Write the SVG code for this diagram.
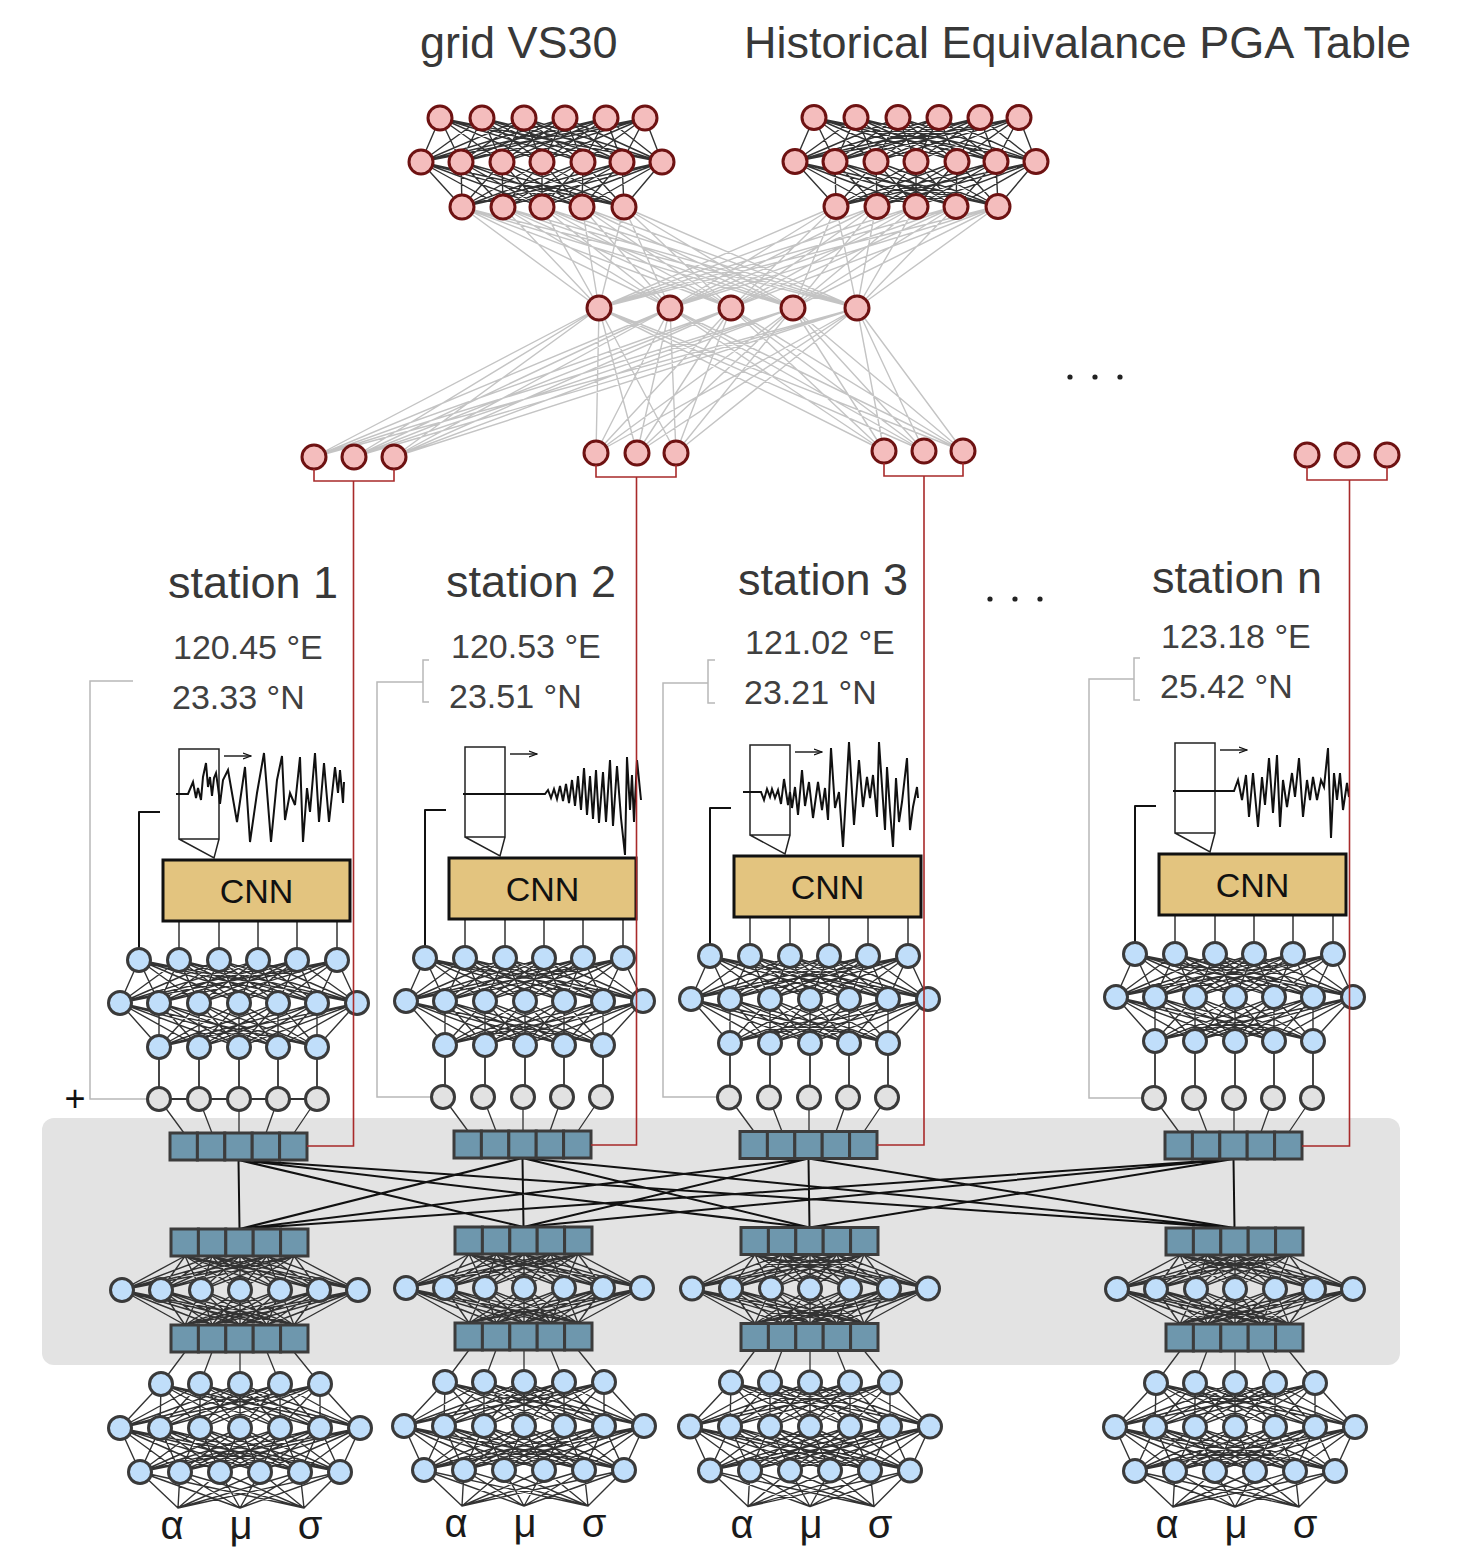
<svg xmlns="http://www.w3.org/2000/svg" width="1462" height="1564" viewBox="0 0 1462 1564">
<style>
text{font-family:"Liberation Sans",Arial,sans-serif}
.t{font-size:45px;fill:#383838}
.c{font-size:34px;fill:#404040}
.pk{fill:#f4bdbd;stroke:#6e1212;stroke-width:3}
.bl{fill:#c0defa;stroke:#3a3a3a;stroke-width:3}
.gr{fill:#e2e2e2;stroke:#3a3a3a;stroke-width:3}
.cell{fill:#6e97ad;stroke:#3c3c3c;stroke-width:3}
.dn{fill:none;stroke:#333;stroke-width:1.4;stroke-linejoin:round}
.lt{fill:none;stroke:#c4c4c4;stroke-width:1.4;stroke-linejoin:round}
.red{fill:none;stroke:#a82a2a;stroke-width:1.6}
.gl{fill:none;stroke:#b8b8b8;stroke-width:1.5}
.bk{fill:none;stroke:#111;stroke-width:2;stroke-linejoin:round}
.wv{fill:none;stroke:#111;stroke-width:2}
.sn{fill:none;stroke:#222;stroke-width:1.5}
.cnn{fill:#e3c47f;stroke:#111;stroke-width:3}
.cnt{font-size:34px;fill:#111;text-anchor:middle}
.gk{font-size:40px;fill:#1a1a1a;text-anchor:middle}
</style>
<defs>
<marker id="ah" markerWidth="9" markerHeight="8" refX="8" refY="4" orient="auto" markerUnits="userSpaceOnUse">
<path d="M0 1L8 4L0 7" fill="none" stroke="#111" stroke-width="1.2"/>
</marker>
<g id="vec">
<rect class="cell" x="0" y="0" width="27.4" height="27"/>
<rect class="cell" x="27.4" y="0" width="27.4" height="27"/>
<rect class="cell" x="54.8" y="0" width="27.4" height="27"/>
<rect class="cell" x="82.2" y="0" width="27.4" height="27"/>
<rect class="cell" x="109.6" y="0" width="27.4" height="27"/>
</g>
<g id="pnet">
<path class="dn" d="M421 162 440 118 461 162M502 162 440 118 542 162M583 162 440 118 622 162M662 162 440 118
M421 162 482 118 461 162M502 162 482 118 542 162M583 162 482 118 622 162M662 162 482 118
M421 162 524 118 461 162M502 162 524 118 542 162M583 162 524 118 622 162M662 162 524 118
M421 162 565 118 461 162M502 162 565 118 542 162M583 162 565 118 622 162M662 162 565 118
M421 162 606 118 461 162M502 162 606 118 542 162M583 162 606 118 622 162M662 162 606 118
M421 162 645 118 461 162M502 162 645 118 542 162M583 162 645 118 622 162M662 162 645 118
M462 207 421 162 503 207M542 207 421 162 582 207M624 207 421 162
M462 207 461 162 503 207M542 207 461 162 582 207M624 207 461 162
M462 207 502 162 503 207M542 207 502 162 582 207M624 207 502 162
M462 207 542 162 503 207M542 207 542 162 582 207M624 207 542 162
M462 207 583 162 503 207M542 207 583 162 582 207M624 207 583 162
M462 207 622 162 503 207M542 207 622 162 582 207M624 207 622 162
M462 207 662 162 503 207M542 207 662 162 582 207M624 207 662 162"/>
<circle class="pk" cx="440" cy="118" r="12"/><circle class="pk" cx="482" cy="118" r="12"/><circle class="pk" cx="524" cy="118" r="12"/><circle class="pk" cx="565" cy="118" r="12"/><circle class="pk" cx="606" cy="118" r="12"/><circle class="pk" cx="645" cy="118" r="12"/>
<circle class="pk" cx="421" cy="162" r="12"/><circle class="pk" cx="461" cy="162" r="12"/><circle class="pk" cx="502" cy="162" r="12"/><circle class="pk" cx="542" cy="162" r="12"/><circle class="pk" cx="583" cy="162" r="12"/><circle class="pk" cx="622" cy="162" r="12"/><circle class="pk" cx="662" cy="162" r="12"/>
<circle class="pk" cx="462" cy="207" r="12"/><circle class="pk" cx="503" cy="207" r="12"/><circle class="pk" cx="542" cy="207" r="12"/><circle class="pk" cx="582" cy="207" r="12"/><circle class="pk" cx="624" cy="207" r="12"/>
</g>
<g id="enc">
<path class="sn" d="M179 749H219V839H179ZM179 839L214 858L219 839"/>
<path class="sn" d="M224 756H251" marker-end="url(#ah)"/>
<path class="bk" d="M160 812H139V960"/>
<path fill="none" stroke="#333" stroke-width="1.5" d="M179 921V960M219 921V960M258 921V960M297 921V960M337 921V960"/>
<rect class="cnn" x="163" y="860" width="187" height="61"/>
<text class="cnt" x="256.5" y="903">CNN</text>
<path class="dn" d="M120 1003 139 960 159 1003M199 1003 139 960 239 1003M278 1003 139 960 317 1003M357 1003 139 960
M120 1003 179 960 159 1003M199 1003 179 960 239 1003M278 1003 179 960 317 1003M357 1003 179 960
M120 1003 219 960 159 1003M199 1003 219 960 239 1003M278 1003 219 960 317 1003M357 1003 219 960
M120 1003 258 960 159 1003M199 1003 258 960 239 1003M278 1003 258 960 317 1003M357 1003 258 960
M120 1003 297 960 159 1003M199 1003 297 960 239 1003M278 1003 297 960 317 1003M357 1003 297 960
M120 1003 337 960 159 1003M199 1003 337 960 239 1003M278 1003 337 960 317 1003M357 1003 337 960
M159 1047 120 1003 199 1047M239 1047 120 1003 278 1047M317 1047 120 1003
M159 1047 159 1003 199 1047M239 1047 159 1003 278 1047M317 1047 159 1003
M159 1047 199 1003 199 1047M239 1047 199 1003 278 1047M317 1047 199 1003
M159 1047 239 1003 199 1047M239 1047 239 1003 278 1047M317 1047 239 1003
M159 1047 278 1003 199 1047M239 1047 278 1003 278 1047M317 1047 278 1003
M159 1047 317 1003 199 1047M239 1047 317 1003 278 1047M317 1047 317 1003
M159 1047 357 1003 199 1047M239 1047 357 1003 278 1047M317 1047 357 1003"/>
<circle class="bl" cx="139" cy="960" r="11.5"/><circle class="bl" cx="179" cy="960" r="11.5"/><circle class="bl" cx="219" cy="960" r="11.5"/><circle class="bl" cx="258" cy="960" r="11.5"/><circle class="bl" cx="297" cy="960" r="11.5"/><circle class="bl" cx="337" cy="960" r="11.5"/>
<circle class="bl" cx="120" cy="1003" r="11.5"/><circle class="bl" cx="159" cy="1003" r="11.5"/><circle class="bl" cx="199" cy="1003" r="11.5"/><circle class="bl" cx="239" cy="1003" r="11.5"/><circle class="bl" cx="278" cy="1003" r="11.5"/><circle class="bl" cx="317" cy="1003" r="11.5"/><circle class="bl" cx="357" cy="1003" r="11.5"/>
<circle class="bl" cx="159" cy="1047" r="11.5"/><circle class="bl" cx="199" cy="1047" r="11.5"/><circle class="bl" cx="239" cy="1047" r="11.5"/><circle class="bl" cx="278" cy="1047" r="11.5"/><circle class="bl" cx="317" cy="1047" r="11.5"/>
</g>
<g id="dec">
<path fill="none" stroke="#333" stroke-width="1.3" d="M159 1099 184 1133M199 1099 212 1133M239 1099 239 1133M278 1099 266 1133M317 1099 294 1133M185 1352 161 1384M212 1352 200 1384M240 1352 240 1384M267 1352 280 1384M294 1352 320 1384"/>
<path class="dn" d="M122 1290 185 1256 161 1290M201 1290 185 1256 240 1290M280 1290 185 1256 319 1290M358 1290 185 1256
M122 1290 212 1256 161 1290M201 1290 212 1256 240 1290M280 1290 212 1256 319 1290M358 1290 212 1256
M122 1290 240 1256 161 1290M201 1290 240 1256 240 1290M280 1290 240 1256 319 1290M358 1290 240 1256
M122 1290 267 1256 161 1290M201 1290 267 1256 240 1290M280 1290 267 1256 319 1290M358 1290 267 1256
M122 1290 294 1256 161 1290M201 1290 294 1256 240 1290M280 1290 294 1256 319 1290M358 1290 294 1256
M122 1290 185 1325 161 1290M201 1290 185 1325 240 1290M280 1290 185 1325 319 1290M358 1290 185 1325
M122 1290 212 1325 161 1290M201 1290 212 1325 240 1290M280 1290 212 1325 319 1290M358 1290 212 1325
M122 1290 240 1325 161 1290M201 1290 240 1325 240 1290M280 1290 240 1325 319 1290M358 1290 240 1325
M122 1290 267 1325 161 1290M201 1290 267 1325 240 1290M280 1290 267 1325 319 1290M358 1290 267 1325
M122 1290 294 1325 161 1290M201 1290 294 1325 240 1290M280 1290 294 1325 319 1290M358 1290 294 1325
M120 1428 161 1384 160 1428M200 1428 161 1384 240 1428M280 1428 161 1384 320 1428M360 1428 161 1384
M120 1428 200 1384 160 1428M200 1428 200 1384 240 1428M280 1428 200 1384 320 1428M360 1428 200 1384
M120 1428 240 1384 160 1428M200 1428 240 1384 240 1428M280 1428 240 1384 320 1428M360 1428 240 1384
M120 1428 280 1384 160 1428M200 1428 280 1384 240 1428M280 1428 280 1384 320 1428M360 1428 280 1384
M120 1428 320 1384 160 1428M200 1428 320 1384 240 1428M280 1428 320 1384 320 1428M360 1428 320 1384
M140 1472 120 1428 180 1472M220 1472 120 1428 260 1472M300 1472 120 1428 340 1472
M140 1472 160 1428 180 1472M220 1472 160 1428 260 1472M300 1472 160 1428 340 1472
M140 1472 200 1428 180 1472M220 1472 200 1428 260 1472M300 1472 200 1428 340 1472
M140 1472 240 1428 180 1472M220 1472 240 1428 260 1472M300 1472 240 1428 340 1472
M140 1472 280 1428 180 1472M220 1472 280 1428 260 1472M300 1472 280 1428 340 1472
M140 1472 320 1428 180 1472M220 1472 320 1428 260 1472M300 1472 320 1428 340 1472
M140 1472 360 1428 180 1472M220 1472 360 1428 260 1472M300 1472 360 1428 340 1472
M140 1472 178 1508 180 1472M220 1472 178 1508 260 1472M300 1472 178 1508 340 1472
M140 1472 240 1508 180 1472M220 1472 240 1508 260 1472M300 1472 240 1508 340 1472
M140 1472 304 1508 180 1472M220 1472 304 1508 260 1472M300 1472 304 1508 340 1472"/>
<circle class="gr" cx="159" cy="1099" r="11.5"/><circle class="gr" cx="199" cy="1099" r="11.5"/><circle class="gr" cx="239" cy="1099" r="11.5"/><circle class="gr" cx="278" cy="1099" r="11.5"/><circle class="gr" cx="317" cy="1099" r="11.5"/>
<use href="#vec" x="170" y="1133"/>
<use href="#vec" x="171" y="1229"/>
<use href="#vec" x="171" y="1325"/>
<circle class="bl" cx="122" cy="1290" r="11.5"/><circle class="bl" cx="161" cy="1290" r="11.5"/><circle class="bl" cx="201" cy="1290" r="11.5"/><circle class="bl" cx="240" cy="1290" r="11.5"/><circle class="bl" cx="280" cy="1290" r="11.5"/><circle class="bl" cx="319" cy="1290" r="11.5"/><circle class="bl" cx="358" cy="1290" r="11.5"/>
<circle class="bl" cx="161" cy="1384" r="11.5"/><circle class="bl" cx="200" cy="1384" r="11.5"/><circle class="bl" cx="240" cy="1384" r="11.5"/><circle class="bl" cx="280" cy="1384" r="11.5"/><circle class="bl" cx="320" cy="1384" r="11.5"/>
<circle class="bl" cx="120" cy="1428" r="11.5"/><circle class="bl" cx="160" cy="1428" r="11.5"/><circle class="bl" cx="200" cy="1428" r="11.5"/><circle class="bl" cx="240" cy="1428" r="11.5"/><circle class="bl" cx="280" cy="1428" r="11.5"/><circle class="bl" cx="320" cy="1428" r="11.5"/><circle class="bl" cx="360" cy="1428" r="11.5"/>
<circle class="bl" cx="140" cy="1472" r="11.5"/><circle class="bl" cx="180" cy="1472" r="11.5"/><circle class="bl" cx="220" cy="1472" r="11.5"/><circle class="bl" cx="260" cy="1472" r="11.5"/><circle class="bl" cx="300" cy="1472" r="11.5"/><circle class="bl" cx="340" cy="1472" r="11.5"/>
<text class="gk" x="172" y="1539">α</text>
<text class="gk" x="241" y="1539">μ</text>
<text class="gk" x="310" y="1539">σ</text>
</g>
</defs>

<rect id="shared-panel" x="42" y="1118" width="1358" height="247" rx="12" fill="#e3e3e3"/>

<g id="connectors-under">
<path class="lt" d="M462 207 599 308 503 207M542 207 599 308 582 207M624 207 599 308 836 206M876 206 599 308 916 206M956 206 599 308 998 206
M462 207 670 308 503 207M542 207 670 308 582 207M624 207 670 308 836 206M876 206 670 308 916 206M956 206 670 308 998 206
M462 207 731 308 503 207M542 207 731 308 582 207M624 207 731 308 836 206M876 206 731 308 916 206M956 206 731 308 998 206
M462 207 793 308 503 207M542 207 793 308 582 207M624 207 793 308 836 206M876 206 793 308 916 206M956 206 793 308 998 206
M462 207 857 308 503 207M542 207 857 308 582 207M624 207 857 308 836 206M876 206 857 308 916 206M956 206 857 308 998 206
M314 457 599 308 354 457M394 457 599 308 596 453M637 453 599 308 676 453M884 451 599 308 924 451M963 451 599 308
M314 457 670 308 354 457M394 457 670 308 596 453M637 453 670 308 676 453M884 451 670 308 924 451M963 451 670 308
M314 457 731 308 354 457M394 457 731 308 596 453M637 453 731 308 676 453M884 451 731 308 924 451M963 451 731 308
M314 457 793 308 354 457M394 457 793 308 596 453M637 453 793 308 676 453M884 451 793 308 924 451M963 451 793 308
M314 457 857 308 354 457M394 457 857 308 596 453M637 453 857 308 676 453M884 451 857 308 924 451M963 451 857 308"/>
<path class="bk" d="M239.5 1229 238.5 1160 523.5 1227M809.5 1227.5 238.5 1160 1234.5 1228
M239.5 1229 522.5 1158 523.5 1227M809.5 1227.5 522.5 1158 1234.5 1228
M239.5 1229 808.5 1158.5 523.5 1227M809.5 1227.5 808.5 1158.5 1234.5 1228
M239.5 1229 1233.5 1159 523.5 1227M809.5 1227.5 1233.5 1159 1234.5 1228"/>
</g>

<g id="grid-vs30">
<text class="t" x="420" y="58">grid VS30</text>
<use href="#pnet"/>
</g>
<g id="historical-pga">
<text class="t" x="744" y="58">Historical Equivalance PGA Table</text>
<use href="#pnet" x="374" y="-0.5"/>
</g>
<g id="fusion-layer">
<circle class="pk" cx="599" cy="308" r="12"/><circle class="pk" cx="670" cy="308" r="12"/><circle class="pk" cx="731" cy="308" r="12"/><circle class="pk" cx="793" cy="308" r="12"/><circle class="pk" cx="857" cy="308" r="12"/>
</g>
<g id="pga-out-1"><circle class="pk" cx="314" cy="457" r="12"/><circle class="pk" cx="354" cy="457" r="12"/><circle class="pk" cx="394" cy="457" r="12"/></g>
<g id="pga-out-2"><circle class="pk" cx="596" cy="453" r="12"/><circle class="pk" cx="637" cy="453" r="12"/><circle class="pk" cx="676" cy="453" r="12"/></g>
<g id="pga-out-3"><circle class="pk" cx="884" cy="451" r="12"/><circle class="pk" cx="924" cy="451" r="12"/><circle class="pk" cx="963" cy="451" r="12"/></g>
<g id="pga-out-n"><circle class="pk" cx="1307" cy="455" r="12"/><circle class="pk" cx="1347" cy="455" r="12"/><circle class="pk" cx="1387" cy="455" r="12"/></g>

<g id="station-1">
<text class="t" x="168" y="598">station 1</text>
<text class="c" x="173" y="659">120.45 °E</text>
<text class="c" x="172" y="709">23.33 °N</text>
<path class="gl" d="M133 681H90V1099H147"/>
<path fill="none" stroke="#333" stroke-width="1.8" d="M159 1047V1099M199 1047V1099M239 1047V1099M278 1047V1099M317 1047V1099M159 1099H317"/>
<use href="#dec"/>
<use href="#enc"/>
<path class="wv" d="M176 794H188L193 782L196 798L198 788L201 800L203 777L206 763L208 787L210 777L212 796L214 778L216 773L218 787L220 804L223 780L228 770L237 822L245 767L250 842L257 793L264 753L271 842L277 780L282 756L285 820L290 793L295 805L300 757L303 842L307 788L310 812L315 753L319 822L324 763L329 822L335 767L338 793L340 770L343 803L344 782"/>
</g>

<g id="station-2">
<text class="t" x="446" y="597">station 2</text>
<text class="c" x="451" y="658">120.53 °E</text>
<text class="c" x="449" y="708">23.51 °N</text>
<path class="gl" d="M429 660H423V702H429M423 682H377V1097H432"/>
<path fill="none" stroke="#333" stroke-width="1.8" d="M445 1045V1097M485 1045V1097M525 1045V1097M564 1045V1097M603 1045V1097"/>
<use href="#dec" transform="translate(284,-2)"/>
<use href="#enc" transform="translate(286,-2)"/>
<path class="wv" d="M463 794H545L548 790L551 798L554 789L557 799L560 786L563 801L566 784L569 803L572 780L575 806L578 776L581 810L584 768L587 815L590 776L593 819L596 770L599 823L603 772L606 822L610 760L613 826L617 766L621 818L625 855L627 757L630 810L632 775L634 822L637 760L641 800"/>
</g>

<g id="station-3">
<text class="t" x="738" y="595">station 3</text>
<text class="c" x="745" y="654">121.02 °E</text>
<text class="c" x="744" y="704">23.21 °N</text>
<path class="gl" d="M715 660H708V703H715M708 683H663V1097H718"/>
<path fill="none" stroke="#333" stroke-width="1.8" d="M730 1043V1097M770 1043V1097M810 1043V1097M849 1043V1097M888 1043V1097"/>
<use href="#dec" transform="translate(570,-1.5)"/>
<use href="#enc" transform="translate(571,-4)"/>
<path class="wv" d="M743 792H761L764 800L767 789L770 797L772 789L775 798L778 790L781 804L784 779L788 805L790 792L792 808L795 787L798 815L802 770L805 806L809 782L813 818L818 782L822 810L825 788L828 820L831 748L835 808L839 792L843 847L849 742L854 825L859 760L863 807L867 777L870 798L873 775L877 817L879 742L885 830L887 767L890 810L893 847L896 778L899 822L902 802L907 758L910 830L913 807L917 787L918 798"/>
</g>

<g id="station-n">
<text class="t" x="1152" y="593">station n</text>
<text class="c" x="1161" y="648">123.18 °E</text>
<text class="c" x="1160" y="698">25.42 °N</text>
<path class="gl" d="M1140 658H1134V700H1140M1134 679H1089V1098H1143"/>
<path fill="none" stroke="#333" stroke-width="1.8" d="M1155 1041V1098M1195 1041V1098M1235 1041V1098M1274 1041V1098M1313 1041V1098"/>
<use href="#dec" transform="translate(995,-1)"/>
<use href="#enc" transform="translate(996,-6)"/>
<path class="wv" d="M1173 791H1234L1238 780L1242 800L1246 775L1249 817L1253 773L1258 827L1262 777L1265 805L1269 758L1273 813L1277 755L1280 827L1283 780L1287 807L1292 773L1295 797L1299 758L1303 817L1307 780L1310 800L1313 777L1317 800L1321 780L1324 787L1328 748L1331 838L1334 773L1337 800L1340 773L1343 810L1347 783L1349 797"/>
</g>

<g id="connectors-over">
<path class="red" d="M314 469V481H394V469M353.5 481V1146H307"/>
<path class="red" d="M596 465V477H676V465M636.5 477V1145H591"/>
<path class="red" d="M884 463V476H963V463M924 476V1145H877"/>
<path class="red" d="M1307 467V480H1387V467M1349.5 480V1146H1302"/>
</g>

<g id="ellipsis" fill="#222">
<circle cx="1070" cy="377" r="2.6"/><circle cx="1095" cy="377" r="2.6"/><circle cx="1120" cy="377" r="2.6"/>
<circle cx="990" cy="599" r="2.6"/><circle cx="1015" cy="599" r="2.6"/><circle cx="1040" cy="599" r="2.6"/>
</g>
<text x="75" y="1111" font-size="36" fill="#111" text-anchor="middle">+</text>
</svg>
